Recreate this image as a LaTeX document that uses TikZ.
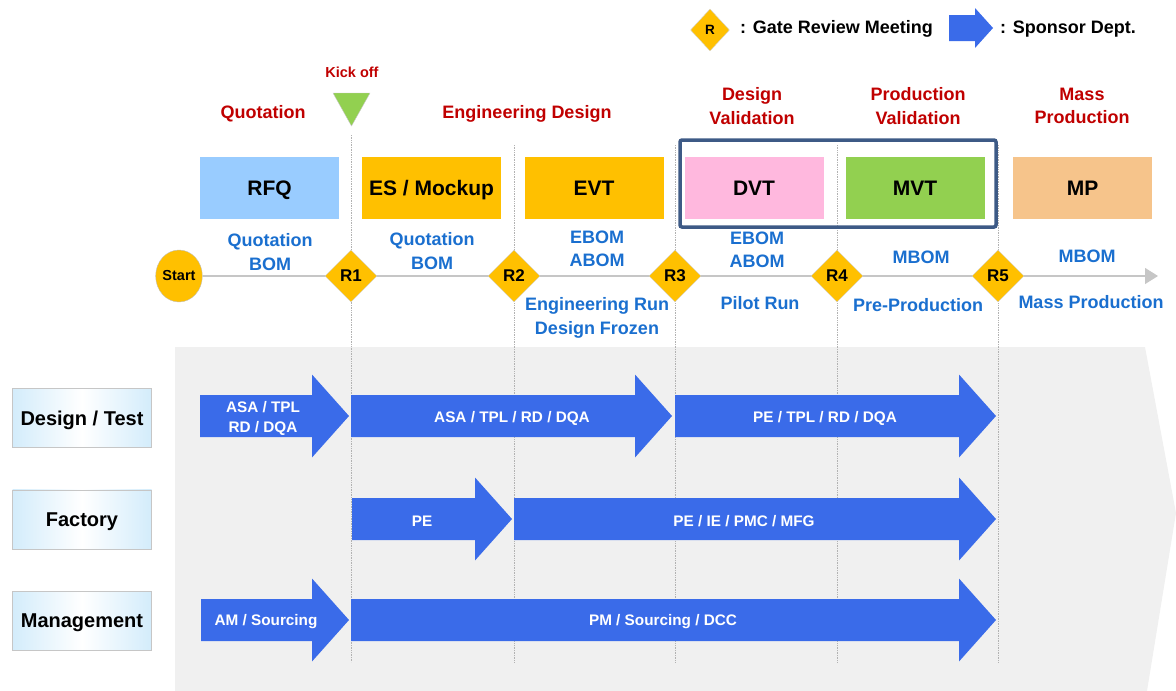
\documentclass[tikz,border=0pt]{standalone}
\usepackage{fontspec}
\setmainfont{Liberation Sans}
\usetikzlibrary{positioning,arrows.meta,shapes.geometric}

\definecolor{gatey}{HTML}{FFC000}
\definecolor{redtxt}{HTML}{C00000}
\definecolor{bluetxt}{HTML}{1A6FCF}
\definecolor{arrowblue}{HTML}{3A6BE9}
\definecolor{rfqblue}{HTML}{99CCFF}
\definecolor{dvtpink}{HTML}{FFB8DE}
\definecolor{mvtgreen}{HTML}{92D050}
\definecolor{mporange}{HTML}{F6C48B}
\definecolor{framenavy}{HTML}{3D5A86}
\definecolor{bggray}{HTML}{F0F0F0}
\definecolor{rowblue}{HTML}{D3ECFB}

\newcommand{\fsz}[2]{\fontsize{#1}{#2}\selectfont\bfseries}

\begin{document}
\begin{tikzpicture}[x=1pt,y=-1pt,
  phase/.style={minimum width=139pt,minimum height=62pt,inner sep=0pt,text height=15pt,text depth=0pt,font=\fsz{21}{25}},
  gate/.style={shape=diamond,fill=gatey,draw=gray!35,minimum width=52pt,minimum height=52pt,inner sep=0pt,font=\fsz{17}{20}},
  stage/.style={text=redtxt,align=center,font=\fsz{18}{23.5}},
  bom/.style={text=bluetxt,align=center,font=\fsz{18}{23.5}},
  dept/.style={draw=gray!45,minimum width=139pt,minimum height=59pt,inner sep=0pt,text height=14.3pt,text depth=0pt,
    left color=rowblue,right color=rowblue,middle color=white,font=\fsz{20}{23}},
  sponsortxt/.style={text=white,align=center,inner sep=0pt,yshift=-2pt,font=\fsz{15.3}{20}},
  milestone/.style={draw=gray!60,densely dotted,line width=0.7pt},
  timeline/.style={draw=gray!45,line width=1.2pt,-{Triangle[length=13pt,width=16pt]}}
]
\useasboundingbox (0,0) rectangle (1176,691);

% grey swim area
\fill[bggray] (175,347) -- (1145,347) -- (1176,513) -- (1147,691) -- (175,691) -- cycle;

% milestone lines
\coordinate (m1top) at (351,135);
\coordinate (m1bot) at (351,662);
\foreach \i/\xx in {2/514,3/675,4/837,5/998}{
  \coordinate (m\i top) at (\xx,145);
  \coordinate (m\i bot) at (\xx,662);
}
\foreach \i in {1,...,5}
  \draw[milestone] (m\i top) -- (m\i bot);

% time line
\node[shape=ellipse,fill=gatey,draw=gray!50,minimum width=44pt,minimum height=52pt,inner sep=0pt,font=\fsz{14.5}{17}] (start) at (179,276) {Start};
\coordinate (tlend) at (1158,276);
\draw[timeline] (start) -- (tlend);

\foreach \i/\xx in {1/351,2/514,3/675,4/837,5/998}
  \node[gate] (r\i) at (\xx,276) {R\i};

% kick off
\fill[mvtgreen,draw=gray!45] (333,93) -- (370,93) -- (351.5,126) -- cycle;
\node[stage,font=\fsz{14.5}{17}] (kick) at (352,72) {Kick off};

% phases
\foreach \nm/\xx/\col/\txt in {rfq/269.5/rfqblue/RFQ, es/431.5/gatey/{ES / Mockup},
    evt/594/gatey/EVT, dvt/754/dvtpink/DVT, mvt/915/mvtgreen/MVT, mp/1082.5/mporange/MP}
  \node[phase,fill=\col] (\nm) at (\xx,188) {\txt};
\draw[framenavy,line width=3.5pt,rounded corners=2pt] (680,140) rectangle (996,227);

% stage titles
\node[stage,yshift=-2pt] (quot) at (263,112) {Quotation};
\node[stage,yshift=-2pt] (engd) at (527,112) {Engineering Design};
\node[stage] (desv) at (752,106) {Design\\Validation};
\node[stage] (prov) at (918,106) {Production\\Validation};
\node[stage] (masp) at (1082,106) {Mass\\Production};

% bom texts
\node[bom] (bom1) at (270,252) {Quotation\\BOM};
\node[bom] (bom2) at (432,251) {Quotation\\BOM};
\node[bom] (bom3) at (597,249) {EBOM\\ABOM};
\node[bom] (bom4) at (757,250) {EBOM\\ABOM};
\node[bom] (bom5) at (921,257) {MBOM};
\node[bom] (bom6) at (1087,256) {MBOM};
\node[bom] (run3) at (597,318) {Engineering Run\\Design Frozen};
\node[bom] (run4) at (760,303) {Pilot Run};
\node[bom] (run5) at (918,305) {Pre-Production};
\node[bom] (run6) at (1091,302) {Mass Production};

% departments
\node[dept] (design) at (82,418) {Design / Test};
\node[dept,below=42pt of design] (factory) {Factory};
\node[dept,below=42pt of factory] (mgmt) {Management};

% sponsor arrows
\foreach \tl/\tp/\yc/\tx/\lbl [count=\i] in {
    200/349/416/263/{ASA / TPL\\RD / DQA},
    351/672/416/512/{ASA / TPL / RD / DQA},
    675/996/416/825/{PE / TPL / RD / DQA},
    352/512/519/422/PE,
    514/996/519/744/{PE / IE / PMC / MFG},
    201/349/620/266/{AM / Sourcing},
    351/996/620/663/{PM / Sourcing / DCC}}{
  \fill[arrowblue] (\tl,\yc-21) -- (\tp-37,\yc-21) -- (\tp-37,\yc-41.5) -- (\tp,\yc)
    -- (\tp-37,\yc+41.5) -- (\tp-37,\yc+21) -- (\tl,\yc+21) -- cycle;
  \node[sponsortxt] (sp\i) at (\tx,\yc) {\lbl};
}

% legend
\node[gate,minimum width=39pt,minimum height=42pt,font=\fsz{13.5}{15}] (lgate) at (710,30) {R};
\node[anchor=west,inner sep=0pt,font=\fsz{18}{20}] (lgtxt) at (740,29) {: Gate Review Meeting};
\fill[arrowblue] (949,15) -- (975,15) -- (975,8) -- (993,28) -- (975,48) -- (975,41) -- (949,41) -- cycle;
\node[anchor=west,inner sep=0pt,font=\fsz{18}{20}] (lsptxt) at (1000,29) {: Sponsor Dept.};
\end{tikzpicture}
\end{document}
